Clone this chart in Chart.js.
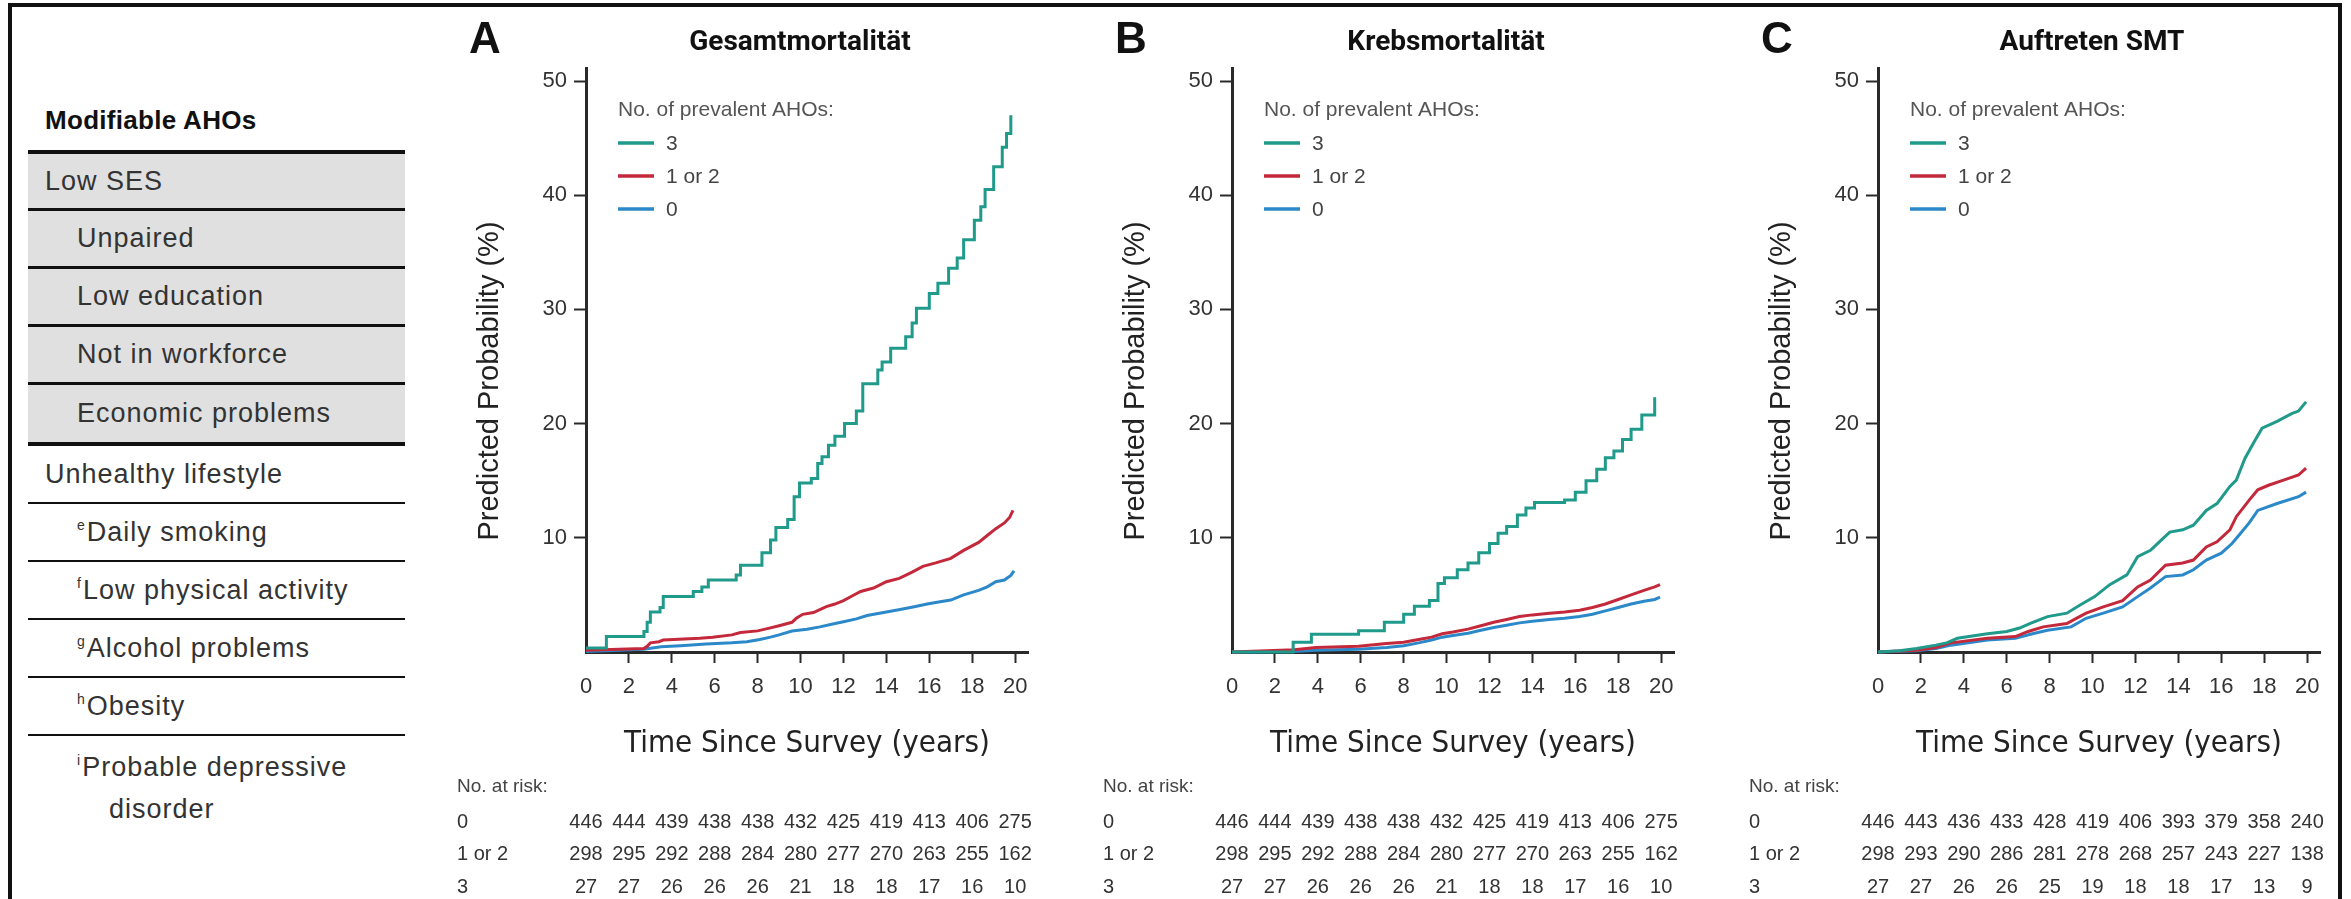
<!DOCTYPE html>
<html>
<head>
<meta charset="utf-8">
<script src="https://cdn.jsdelivr.net/npm/chart.js@4.4.1/dist/chart.umd.min.js"></script>
<style>
  body { margin: 0; width: 2351px; height: 899px; overflow: hidden; background: #fff;
         font-family: "Liberation Sans", Arial, sans-serif; }
  #frame { position: absolute; left: 8px; top: 3px; width: 2334px; height: 1000px;
           border: 4px solid #111; box-sizing: border-box; }
  #aho { position: absolute; left: 28px; top: 0; width: 377px; }
  #aho .head { position: absolute; left: 17px; top: 105px; font-weight: bold; font-size: 26px;
               letter-spacing: 0.3px; color: #111; }
  #aho .row { position: absolute; left: 0; width: 377px; box-sizing: border-box; font-size: 27px;
              letter-spacing: 1px; color: #333; display: flex; align-items: center; }
  #aho .grey { background: #e0e0e0; }
  #aho sup { font-size: 14px; vertical-align: baseline; position: relative; top: -11px; margin-right: 1px; }
  canvas { position: absolute; top: 0; }
</style>
</head>
<body>
<div id="frame"></div>

<div id="aho">
  <div class="head">Modifiable AHOs</div>
  <div class="row grey" style="top:150px;height:61px;border-top:4px solid #111;border-bottom:3px solid #111;padding-left:17px"><span>Low SES</span></div>
  <div class="row grey" style="top:211px;height:58px;border-bottom:3px solid #111;padding-left:49px"><span>Unpaired</span></div>
  <div class="row grey" style="top:269px;height:58px;border-bottom:3px solid #111;padding-left:49px"><span>Low education</span></div>
  <div class="row grey" style="top:327px;height:58px;border-bottom:3px solid #111;padding-left:49px"><span>Not in workforce</span></div>
  <div class="row grey" style="top:385px;height:61px;border-bottom:4px solid #111;padding-left:49px"><span>Economic problems</span></div>
  <div class="row" style="top:446px;height:58px;border-bottom:2px solid #111;padding-left:17px"><span>Unhealthy lifestyle</span></div>
  <div class="row" style="top:504px;height:58px;border-bottom:2px solid #111;padding-left:49px"><span><sup>e</sup>Daily smoking</span></div>
  <div class="row" style="top:562px;height:58px;border-bottom:2px solid #111;padding-left:49px"><span><sup>f</sup>Low physical activity</span></div>
  <div class="row" style="top:620px;height:58px;border-bottom:2px solid #111;padding-left:49px"><span><sup>g</sup>Alcohol problems</span></div>
  <div class="row" style="top:678px;height:58px;border-bottom:2px solid #111;padding-left:49px"><span><sup>h</sup>Obesity</span></div>
  <div class="row" style="top:748px;height:80px;padding-left:49px;align-items:flex-start;line-height:38px"><span><sup>i</sup>Probable depressive<br><span style="padding-left:32px">disorder</span></span></div>
</div>

<canvas id="chartA" width="646" height="899" style="left:440px"></canvas>
<canvas id="chartB" width="646" height="899" style="left:1086px"></canvas>
<canvas id="chartC" width="604" height="899" style="left:1732px"></canvas>

<script>
// axes
const xTicks = [0, 2, 4, 6, 8, 10, 12, 14, 16, 18, 20];
const yTicks = [10, 20, 30, 40, 50];
const groupLabels = ["3", "1 or 2", "0"];
const riskRowLabels = ["0", "1 or 2", "3"];

// A: Gesamtmortalität (years since survey / predicted %)
const gesamt3T = [0, 0.95, 2.7, 2.85, 3.0, 3.45, 3.6, 5.0, 5.4, 5.7, 7.0, 7.2, 8.2, 8.6, 8.85, 9.4, 9.7, 9.95, 10.5, 10.8, 11.0, 11.3, 11.6, 12.05, 12.6, 12.9, 13.6, 13.8, 14.2, 14.9, 15.2, 15.4, 16.0, 16.4, 16.9, 17.3, 17.6, 18.1, 18.4, 18.6, 19.0, 19.4, 19.6, 19.8];
const gesamt3P = [0.35, 1.35, 1.8, 2.6, 3.5, 3.9, 4.85, 5.3, 5.7, 6.3, 6.75, 7.6, 8.7, 9.8, 10.9, 11.6, 13.6, 14.8, 15.2, 16.5, 17.1, 18.1, 18.9, 20.0, 21.1, 23.5, 24.7, 25.4, 26.6, 27.6, 28.8, 30.1, 31.4, 32.3, 33.6, 34.5, 36.1, 37.8, 39.0, 40.5, 42.5, 44.2, 45.4, 47.0];
const gesamt12T = [0, 2.7, 2.85, 3.0, 3.4, 3.6, 5.3, 5.9, 6.8, 7.2, 8.0, 8.5, 9.0, 9.6, 9.8, 10.1, 10.6, 11.2, 11.6, 12.0, 12.4, 12.8, 13.4, 14.0, 14.6, 15.2, 15.7, 16.3, 17.0, 17.6, 18.3, 18.7, 19.1, 19.5, 19.75, 19.9];
const gesamt12P = [0.15, 0.3, 0.5, 0.8, 0.9, 1.05, 1.2, 1.3, 1.5, 1.7, 1.85, 2.07, 2.3, 2.6, 2.95, 3.3, 3.45, 3.97, 4.2, 4.5, 4.9, 5.3, 5.6, 6.15, 6.45, 7.0, 7.5, 7.8, 8.2, 8.9, 9.6, 10.2, 10.8, 11.3, 11.8, 12.4];
const gesamt0T = [0, 2.7, 3.5, 4.4, 5.6, 6.8, 7.5, 8.1, 8.6, 9.0, 9.6, 10.3, 10.9, 11.5, 12.0, 12.6, 13.1, 14.0, 14.7, 15.3, 15.9, 16.5, 17.0, 17.6, 18.3, 18.7, 19.1, 19.5, 19.8, 19.95];
const gesamt0P = [0.05, 0.25, 0.46, 0.55, 0.7, 0.8, 0.9, 1.1, 1.3, 1.5, 1.84, 2.0, 2.2, 2.45, 2.65, 2.9, 3.2, 3.5, 3.75, 3.97, 4.2, 4.4, 4.55, 5.0, 5.4, 5.7, 6.15, 6.3, 6.7, 7.1];

// B: Krebsmortalität
const krebs3T = [0, 2.85, 3.7, 5.9, 7.1, 8.0, 8.5, 9.2, 9.6, 9.9, 10.5, 11.0, 11.5, 12.0, 12.4, 12.8, 13.3, 13.7, 14.1, 15.5, 16.0, 16.5, 17.0, 17.4, 17.8, 18.2, 18.6, 19.1, 19.7];
const krebs3P = [0, 0.85, 1.55, 1.87, 2.6, 3.3, 4.0, 4.5, 6.0, 6.5, 7.2, 7.8, 8.7, 9.5, 10.4, 11.0, 12.0, 12.6, 13.1, 13.3, 14.0, 15.0, 16.0, 17.0, 17.6, 18.6, 19.5, 20.75, 22.3];
const krebs12T = [0, 2.9, 3.9, 5.9, 7.2, 8.0, 8.7, 9.3, 9.8, 10.3, 11.0, 11.6, 12.2, 12.8, 13.4, 14.0, 14.8, 15.5, 16.2, 16.8, 17.4, 18.0, 18.6, 19.2, 19.7, 19.95];
const krebs12P = [0, 0.2, 0.4, 0.5, 0.75, 0.85, 1.1, 1.3, 1.6, 1.75, 2.0, 2.3, 2.6, 2.85, 3.1, 3.25, 3.4, 3.5, 3.65, 3.9, 4.2, 4.6, 5.0, 5.4, 5.7, 5.9];
const krebs0T = [0, 2.9, 3.9, 5.9, 7.2, 8.0, 8.7, 9.3, 9.8, 10.3, 11.0, 11.6, 12.2, 12.8, 13.4, 14.0, 14.8, 15.5, 16.2, 16.8, 17.4, 18.0, 18.6, 19.2, 19.7, 19.95];
const krebs0P = [0, 0.05, 0.15, 0.25, 0.4, 0.55, 0.8, 1.05, 1.3, 1.45, 1.65, 1.9, 2.15, 2.35, 2.55, 2.7, 2.85, 2.95, 3.1, 3.3, 3.6, 3.9, 4.2, 4.45, 4.6, 4.8];

// C: Auftreten SMT
const smt3T = [0, 1.0, 1.8, 2.7, 3.2, 3.7, 5.1, 6.0, 6.6, 7.1, 7.9, 8.8, 9.4, 10.1, 10.8, 11.6, 12.1, 12.7, 13.2, 13.6, 14.2, 14.7, 15.3, 15.8, 16.4, 16.7, 17.1, 17.5, 17.9, 18.6, 19.3, 19.6, 19.95];
const smt3P = [0, 0.1, 0.3, 0.6, 0.8, 1.2, 1.6, 1.8, 2.1, 2.5, 3.1, 3.4, 4.1, 4.85, 5.9, 6.75, 8.35, 8.9, 9.8, 10.5, 10.7, 11.1, 12.4, 13.0, 14.5, 15.05, 16.95, 18.3, 19.6, 20.2, 20.9, 21.1, 21.9];
const smt12T = [0, 1.8, 2.7, 3.4, 5.1, 6.4, 7.0, 7.7, 8.8, 9.2, 9.7, 10.5, 11.4, 12.1, 12.7, 13.4, 14.2, 14.7, 15.3, 15.8, 16.4, 16.7, 17.3, 17.7, 18.2, 18.9, 19.6, 19.95];
const smt12P = [0, 0.15, 0.4, 0.8, 1.2, 1.35, 1.8, 2.2, 2.5, 2.9, 3.4, 3.95, 4.5, 5.7, 6.3, 7.6, 7.8, 8.05, 9.2, 9.65, 10.7, 11.85, 13.3, 14.2, 14.6, 15.05, 15.5, 16.1];
const smt0T = [0, 1.8, 2.7, 3.4, 5.1, 6.4, 7.2, 7.9, 9.0, 9.7, 10.5, 11.4, 12.1, 12.7, 13.4, 14.2, 14.7, 15.3, 16.0, 16.5, 16.9, 17.3, 17.7, 18.6, 19.6, 19.95];
const smt0P = [0, 0.1, 0.3, 0.6, 1.05, 1.2, 1.6, 1.9, 2.2, 2.95, 3.4, 3.95, 4.85, 5.6, 6.6, 6.75, 7.2, 8.05, 8.65, 9.5, 10.4, 11.3, 12.4, 13.0, 13.6, 14.0];

// number at risk, per row label above
const riskGesamt = [
  [446, 444, 439, 438, 438, 432, 425, 419, 413, 406, 275],
  [298, 295, 292, 288, 284, 280, 277, 270, 263, 255, 162],
  [27, 27, 26, 26, 26, 21, 18, 18, 17, 16, 10]
];
const riskKrebs = [
  [446, 444, 439, 438, 438, 432, 425, 419, 413, 406, 275],
  [298, 295, 292, 288, 284, 280, 277, 270, 263, 255, 162],
  [27, 27, 26, 26, 26, 21, 18, 18, 17, 16, 10]
];
const riskSmt = [
  [446, 443, 436, 433, 428, 419, 406, 393, 379, 358, 240],
  [298, 293, 290, 286, 281, 278, 268, 257, 243, 227, 138],
  [27, 27, 26, 26, 25, 19, 18, 18, 17, 13, 9]
];

const TEAL = "#1f9a8b";
const RED = "#c4283b";
const BLUE = "#2b89c9";
const SANS = '"Liberation Sans", Arial, sans-serif';
const NARROW = '"DejaVu Sans Condensed", "Liberation Sans Narrow", sans-serif';

// letter, title, legend and risk table are painted relative to the plot area
const panelDeco = {
  id: "panelDeco",
  afterDraw(chart, args, o) {
    const { ctx, chartArea, scales } = chart;
    const x0 = chartArea.left;
    ctx.save();
    ctx.textBaseline = "middle";

    ctx.fillStyle = "#111";
    ctx.textAlign = "left";
    ctx.font = "bold 44px " + SANS;
    ctx.fillText(o.letter, x0 - 117, 41);

    ctx.textAlign = "center";
    ctx.font = "bold 28px Roboto, " + SANS;
    ctx.fillText(o.title, x0 + 214, 43);

    ctx.save();
    ctx.translate(x0 - 96, 381);
    ctx.rotate(-Math.PI / 2);
    ctx.fillStyle = "#222";
    ctx.font = "29px " + SANS;
    ctx.fillText("Predicted Probability (%)", 0, 0);
    ctx.restore();

    // legend
    ctx.textAlign = "left";
    ctx.fillStyle = "#555";
    ctx.font = "21px " + SANS;
    ctx.fillText("No. of prevalent AHOs:", x0 + 32, 110);
    o.colors.forEach((c, i) => {
      const y = 143 + i * 33;
      ctx.strokeStyle = c;
      ctx.lineWidth = 3.5;
      ctx.beginPath();
      ctx.moveTo(x0 + 32, y);
      ctx.lineTo(x0 + 68, y);
      ctx.stroke();
      ctx.fillStyle = "#444";
      ctx.fillText(groupLabels[i], x0 + 80, y + 1);
    });

    // number at risk
    ctx.fillStyle = "#444";
    ctx.font = "19px " + SANS;
    ctx.fillText("No. at risk:", x0 - 129, 787);
    const rowY = [822, 854, 887];
    ctx.font = "20px " + SANS;
    o.risk.forEach((row, r) => {
      ctx.textAlign = "left";
      ctx.fillStyle = "#333";
      ctx.fillText(riskRowLabels[r], x0 - 129, rowY[r]);
      ctx.textAlign = "center";
      row.forEach((n, i) => {
        ctx.fillText(String(n), scales.x.getPixelForValue(xTicks[i]), rowY[r]);
      });
    });
    ctx.restore();
  }
};

function series(t, p, color, stepped) {
  return {
    data: t.map((v, i) => ({ x: v, y: p[i] })),
    borderColor: color,
    borderWidth: 3,
    pointRadius: 0,
    fill: false,
    stepped: stepped,
    clip: 6
  };
}

function makePanel(id, letter, title, datasets, risk) {
  const canvas = document.getElementById(id);
  return new Chart(canvas, {
    type: "line",
    data: { datasets: datasets },
    options: {
      responsive: false,
      animation: false,
      devicePixelRatio: 1,
      layout: { padding: { left: 40, right: canvas.width - 588, top: 68, bottom: 136 } },
      plugins: {
        legend: { display: false },
        tooltip: { enabled: false },
        panelDeco: { letter: letter, title: title, colors: [TEAL, RED, BLUE], risk: risk }
      },
      scales: {
        x: {
          type: "linear",
          min: 0,
          max: 20.6,
          afterBuildTicks: (s) => { s.ticks = xTicks.map((v) => ({ value: v })); },
          afterFit: (s) => { s.height = 111; },
          border: { display: true, color: "#2a2a2a", width: 3 },
          grid: {
            drawOnChartArea: false,
            tickLength: 11,
            tickWidth: 2,
            tickColor: (c) => (c.tick && c.tick.value === 0 ? "rgba(0,0,0,0)" : "#2a2a2a")
          },
          ticks: { color: "#333", padding: 11, font: { family: SANS, size: 22 } },
          title: {
            display: true,
            text: "Time Since Survey (years)",
            color: "#222",
            padding: 0,
            font: { family: NARROW, size: 31 }
          }
        },
        y: {
          type: "linear",
          min: 0,
          max: 51.14,
          afterBuildTicks: (s) => { s.ticks = yTicks.map((v) => ({ value: v })); },
          afterFit: (s) => { s.width = 106; },
          border: { display: true, color: "#2a2a2a", width: 3 },
          grid: { drawOnChartArea: false, tickLength: 12, tickWidth: 2, tickColor: "#2a2a2a" },
          ticks: { color: "#333", padding: 7, font: { family: SANS, size: 22 } }
        }
      }
    },
    plugins: [panelDeco]
  });
}

makePanel("chartA", "A", "Gesamtmortalität", [
  series(gesamt3T, gesamt3P, TEAL, true),
  series(gesamt12T, gesamt12P, RED, false),
  series(gesamt0T, gesamt0P, BLUE, false)
], riskGesamt);

makePanel("chartB", "B", "Krebsmortalität", [
  series(krebs3T, krebs3P, TEAL, true),
  series(krebs12T, krebs12P, RED, false),
  series(krebs0T, krebs0P, BLUE, false)
], riskKrebs);

makePanel("chartC", "C", "Auftreten SMT", [
  series(smt3T, smt3P, TEAL, false),
  series(smt12T, smt12P, RED, false),
  series(smt0T, smt0P, BLUE, false)
], riskSmt);
</script>
</body>
</html>
